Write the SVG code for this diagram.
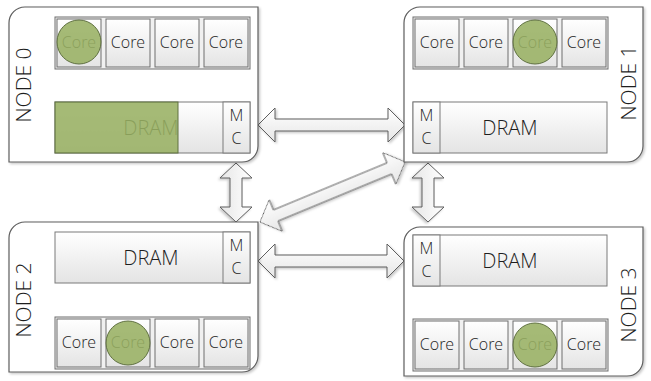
<svg xmlns="http://www.w3.org/2000/svg" width="651" height="381" viewBox="0 0 651 381">
  <defs>
    <linearGradient id="boxGrad" x1="0" y1="0" x2="0" y2="1">
      <stop offset="0" stop-color="#ffffff"/>
      <stop offset="1" stop-color="#e4e4e4"/>
    </linearGradient>
    <linearGradient id="arrowGrad" x1="0" y1="0" x2="0" y2="1">
      <stop offset="0" stop-color="#ffffff"/>
      <stop offset="1" stop-color="#e6e6e6"/>
    </linearGradient>
    <filter id="shadow" x="-10%" y="-10%" width="120%" height="130%">
      <feDropShadow dx="1.5" dy="1.5" stdDeviation="1" flood-color="#000" flood-opacity="0.22"/>
    </filter>
    <style>
      .node { fill: #ffffff; stroke: #5e5e5e; stroke-width: 1.2; filter: url(#shadow); }
      .group { fill: #f0f0f0; stroke: #6e6e6e; stroke-width: 1; }
      .core { fill: url(#boxGrad); stroke: #6e6e6e; stroke-width: 1; }
      .dram { fill: url(#boxGrad); stroke: #7a7a7a; stroke-width: 1; }
      .mc { fill: url(#boxGrad); stroke: #7a7a7a; stroke-width: 1; }
      .busy { fill: #99b163; fill-opacity: 0.88; stroke: #5f7040; stroke-width: 1; }
      .arrow { fill: url(#arrowGrad); stroke: #5e5e5e; stroke-width: 1; stroke-linejoin: miter; filter: url(#shadow); }
      text { font-family: "Open Sans", "Liberation Sans", sans-serif; font-weight: 300; fill: #1e1e1e; text-anchor: middle; }
      .t-core { font-size: 16px; }
      .t-dram { font-size: 20px; }
      .t-mc { font-size: 16px; }
      .t-node { font-size: 21px; dominant-baseline: central; }
    </style>
  </defs>

  <!-- interconnect arrows -->
  <g id="connectors">
    <!-- node0 <-> node1 -->
    <polygon class="arrow" transform="translate(258,125)" points="0,0 17,-17 17,-6 130,-6 130,-17 147,0 130,17 130,6 17,6 17,17"/>
    <!-- node2 <-> node3 -->
    <polygon class="arrow" transform="translate(258,261)" points="0,0 17,-17 17,-6 129,-6 129,-17 146,0 129,17 129,6 17,6 17,17"/>
    <!-- node0 <-> node2 -->
    <polygon class="arrow" transform="translate(236,163) rotate(90)" points="0,0 15,-16 15,-6 44,-6 44,-16 59,0 44,16 44,6 15,6 15,16"/>
    <!-- node1 <-> node3 -->
    <polygon class="arrow" transform="translate(428,163) rotate(90)" points="0,0 15,-16 15,-6 44,-6 44,-16 59,0 44,16 44,6 15,6 15,16"/>
    <!-- node2 <-> node1 -->
    <polygon class="arrow" transform="translate(260,222) rotate(-22.5)" points="0,0 17,-17 17,-6 140,-6 140,-17 157,0 140,17 140,6 17,6 17,17"/>
  </g>

  <!-- NODE 0 -->
  <g id="node0">
    <path class="node" d="M9,23 A16,16 0 0 1 25,7 H258 V146 A16,16 0 0 1 242,162 H9 Z"/>
    <rect class="group" x="55" y="17" width="195" height="52"/>
    <rect class="core" x="57" y="19" width="44" height="48"/>
    <rect class="core" x="106" y="19" width="44" height="48"/>
    <rect class="core" x="155" y="19" width="44" height="48"/>
    <rect class="core" x="204" y="19" width="44" height="48"/>
    <text class="t-core" x="79" y="48">Core</text>
    <text class="t-core" x="128" y="48">Core</text>
    <text class="t-core" x="177" y="48">Core</text>
    <text class="t-core" x="226" y="48">Core</text>
    <circle class="busy" cx="79" cy="42" r="22"/>
    <rect class="dram" x="55" y="102" width="195" height="51"/>
    <text class="t-dram" x="151" y="135">DRAM</text>
    <rect class="busy" x="55" y="102" width="123" height="51"/>
    <rect class="mc" x="223" y="102" width="27" height="51"/>
    <text class="t-mc" x="236.5" y="121">M</text>
    <text class="t-mc" x="236.5" y="144">C</text>
    <text class="t-node" transform="translate(23,85) rotate(-90)">NODE 0</text>
  </g>

  <!-- NODE 1 -->
  <g id="node1">
    <path class="node" d="M404,23 A16,16 0 0 1 420,7 H643 V146 A16,16 0 0 1 627,162 H404 Z"/>
    <rect class="group" x="413" y="17" width="195" height="52"/>
    <rect class="core" x="415" y="19" width="44" height="48"/>
    <rect class="core" x="464" y="19" width="44" height="48"/>
    <rect class="core" x="513" y="19" width="44" height="48"/>
    <rect class="core" x="562" y="19" width="44" height="48"/>
    <text class="t-core" x="437" y="48">Core</text>
    <text class="t-core" x="486" y="48">Core</text>
    <text class="t-core" x="535" y="48">Core</text>
    <text class="t-core" x="584" y="48">Core</text>
    <circle class="busy" cx="535" cy="42" r="22"/>
    <rect class="dram" x="413" y="102" width="194" height="51"/>
    <rect class="mc" x="413" y="102" width="27" height="51"/>
    <text class="t-mc" x="426.5" y="121">M</text>
    <text class="t-mc" x="426.5" y="144">C</text>
    <text class="t-dram" x="510" y="135">DRAM</text>
    <text class="t-node" transform="translate(628,83) rotate(-90)">NODE 1</text>
  </g>

  <!-- NODE 2 -->
  <g id="node2">
    <path class="node" d="M9,238 A16,16 0 0 1 25,222 H258 V356 A16,16 0 0 1 242,372 H9 Z"/>
    <rect class="dram" x="55" y="232" width="195" height="51"/>
    <rect class="mc" x="223" y="232" width="27" height="51"/>
    <text class="t-mc" x="236.5" y="251">M</text>
    <text class="t-mc" x="236.5" y="274">C</text>
    <text class="t-dram" x="151" y="265">DRAM</text>
    <rect class="group" x="55" y="317" width="195" height="52"/>
    <rect class="core" x="57" y="319" width="44" height="48"/>
    <rect class="core" x="106" y="319" width="44" height="48"/>
    <rect class="core" x="155" y="319" width="44" height="48"/>
    <rect class="core" x="204" y="319" width="44" height="48"/>
    <text class="t-core" x="79" y="348">Core</text>
    <text class="t-core" x="128" y="348">Core</text>
    <text class="t-core" x="177" y="348">Core</text>
    <text class="t-core" x="226" y="348">Core</text>
    <circle class="busy" cx="128" cy="343" r="22"/>
    <text class="t-node" transform="translate(23,300) rotate(-90)">NODE 2</text>
  </g>

  <!-- NODE 3 -->
  <g id="node3">
    <path class="node" d="M404,243 A16,16 0 0 1 420,227 H643 V360 A16,16 0 0 1 627,376 H404 Z"/>
    <rect class="dram" x="413" y="235" width="194" height="51"/>
    <rect class="mc" x="413" y="235" width="27" height="51"/>
    <text class="t-mc" x="426.5" y="254">M</text>
    <text class="t-mc" x="426.5" y="277">C</text>
    <text class="t-dram" x="510" y="268">DRAM</text>
    <rect class="group" x="413" y="319" width="195" height="52"/>
    <rect class="core" x="415" y="321" width="44" height="48"/>
    <rect class="core" x="464" y="321" width="44" height="48"/>
    <rect class="core" x="513" y="321" width="44" height="48"/>
    <rect class="core" x="562" y="321" width="44" height="48"/>
    <text class="t-core" x="437" y="350">Core</text>
    <text class="t-core" x="486" y="350">Core</text>
    <text class="t-core" x="535" y="350">Core</text>
    <text class="t-core" x="584" y="350">Core</text>
    <circle class="busy" cx="535" cy="345" r="22"/>
    <text class="t-node" transform="translate(628,305) rotate(-90)">NODE 3</text>
  </g>
</svg>
